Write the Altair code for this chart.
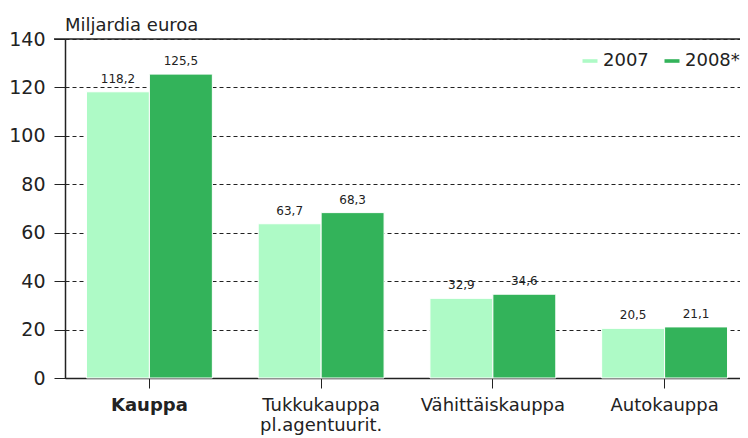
import altair as alt
import pandas as pd

categories = ["Kauppa", "Tukkukauppa|pl.agentuurit.", "Vähittäiskauppa", "Autokauppa"]
years = ["2007", "2008*"]
v2007 = [118.2, 63.7, 32.9, 20.5]
v2008 = [125.5, 68.3, 34.6, 21.1]
y_ticks = [0, 20, 40, 60, 80, 100, 120, 140]

rows = []
for c, a, b in zip(categories, v2007, v2008):
    rows.append({"cat": c, "year": years[0], "value": a})
    rows.append({"cat": c, "year": years[1], "value": b})
df = pd.DataFrame(rows)

FONT = "DejaVu Sans"
colors = ["#aefac6", "#33b35a"]

x_scale = alt.Scale(paddingInner=0.267, paddingOuter=0.125, round=False, range=[0, 684])
x_enc = alt.X("cat:N", sort=categories, title=None, scale=x_scale,
              axis=alt.Axis(labelAngle=0, labelExpr="split(datum.label, '|')",
                            labelFont=FONT, labelFontSize=18, labelColor="#222",
                            labelFontWeight={"condition": {"test": "datum.value == 'Kauppa'", "value": "bold"}, "value": "normal"},
                            labelPadding=8, labelLineHeight=20,
                            tickSize=10, tickColor="#222", domainColor="#222", domainWidth=1.5,
                            labelBaseline="top"))
y_scale = alt.Scale(domain=[0, 140], nice=False)

bars = alt.Chart(df).mark_bar(stroke="white", strokeWidth=1).encode(
    x=x_enc,
    xOffset=alt.XOffset("year:N", sort=years),
    y=alt.Y("value:Q", scale=y_scale, title=None,
            axis=alt.Axis(values=y_ticks, labelFont=FONT, labelFontSize=19, labelColor="#222",
                          tickSize=11, tickColor="#222", domainColor="#222", domainWidth=1.5,
                          labelPadding=9, grid=True, gridDash=[4, 3], gridColor="#222",
                          gridWidth=1.2)),
    color=alt.Color("year:N", sort=years, scale=alt.Scale(domain=years, range=colors),
                    legend=alt.Legend(title=None, orient="none", legendX=516, legendY=13,
                                      direction="horizontal", symbolType="M-1,-0.24H1V0.24H-1Z",
                                      symbolSize=225, symbolStrokeWidth=0, labelFont=FONT,
                                      labelFontSize=18, labelColor="#222", columnPadding=14,
                                      labelOffset=4)),
)

labels = alt.Chart(df).transform_calculate(
    lbl="replace(format(datum.value, '.1f'), '.', ',')"
).mark_text(baseline="bottom", dy=-6, font=FONT, fontSize=12, color="#222").encode(
    x=alt.X("cat:N", sort=categories, scale=x_scale),
    xOffset=alt.XOffset("year:N", sort=years),
    y=alt.Y("value:Q", scale=y_scale),
    text="lbl:N",
)

top_line = alt.Chart(pd.DataFrame({"y": [140]})).mark_rule(color="#222", strokeWidth=1.5).encode(
    y=alt.Y("y:Q", scale=y_scale), x=alt.value(-11), x2=alt.value(700)
)

ytitle = alt.Chart(pd.DataFrame({"t": ["Miljardia euroa"]})).mark_text(
    align="left", baseline="alphabetic", font=FONT, fontSize=18, color="#222", dy=-8
).encode(x=alt.value(0), y=alt.value(0), text="t:N")

chart = alt.layer(bars, labels, top_line, ytitle).properties(
    width=675, height=339,
    padding={"left": 57, "top": 31, "right": 0, "bottom": 59},
    autosize=alt.AutoSizeParams(type="none"),
).configure_view(stroke=None)

chart.save("out.html", embed_options={"renderer": "svg", "actions": False})
